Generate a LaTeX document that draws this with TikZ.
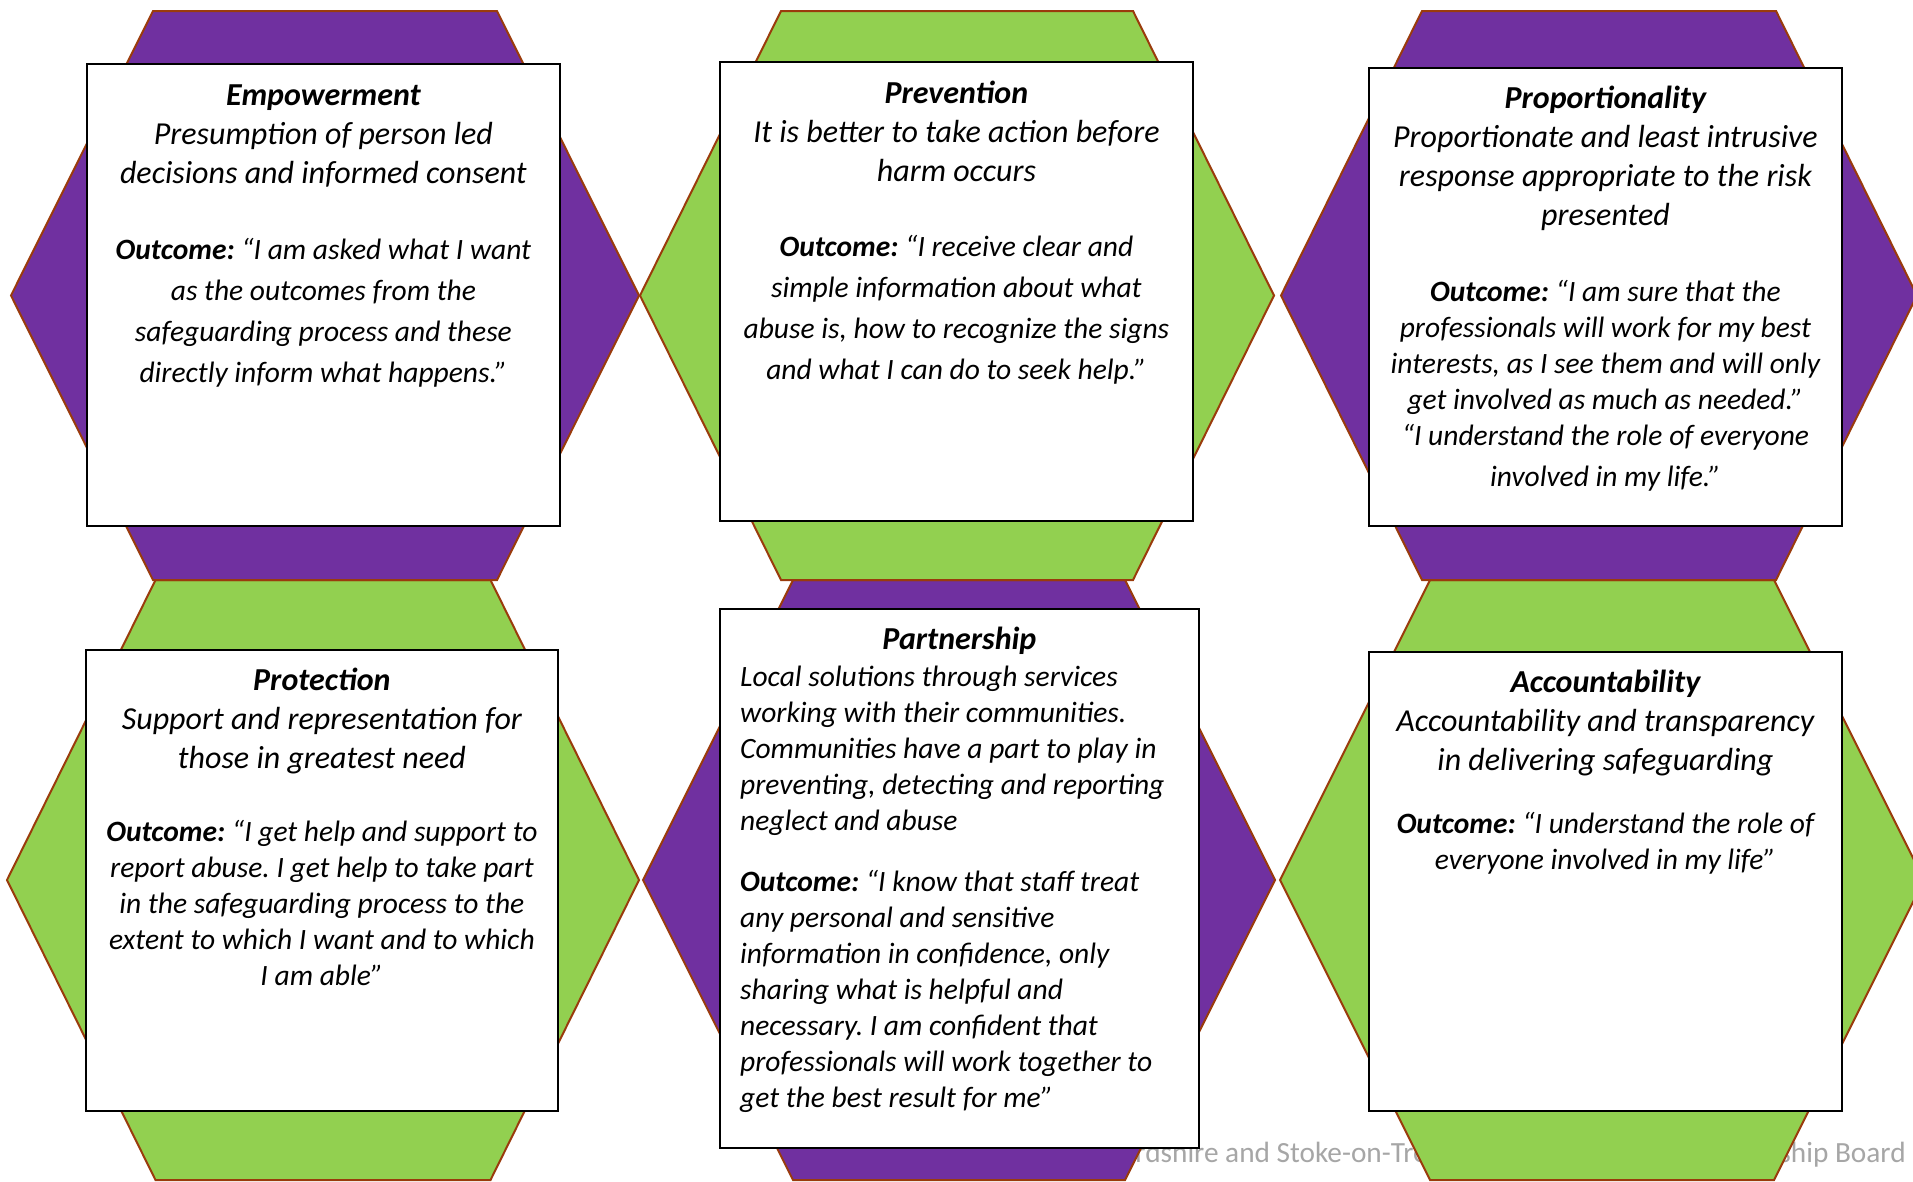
\documentclass[tikz,border=0pt]{standalone}
\usepackage{fontspec}
\setmainfont{Carlito}
\usetikzlibrary{positioning}

\definecolor{hexpurple}{HTML}{7030A0}
\definecolor{hexgreen}{HTML}{92D050}
\definecolor{hexedge}{HTML}{9A3B0C}
\definecolor{footgray}{HTML}{A6A6A6}

\tikzset{
	hexa/.style={draw=hexedge, line width=2pt, line join=miter},
	card/.style={draw=black, fill=white, line width=1.8pt, anchor=north west, inner sep=0pt},
	head/.style={align=center, inner sep=0pt, font=\fontsize{32}{39}\selectfont\itshape\frenchspacing},
	outc/.style={align=center, inner sep=0pt, font=\fontsize{29.5}{#1}\selectfont\itshape\frenchspacing},
	outc/.default=36,
}

\begin{document}
\begin{tikzpicture}[x=1pt, y=-1pt]
	
	\useasboundingbox (0,0) rectangle (1913,1181);
	\fill[white] (0,0) rectangle (1913,1181);
	
	% Fusszeile (liegt hinter den Waben)
	\node[font=\fontsize{29.3}{35}\selectfont, text=footgray, anchor=base east, inner sep=0pt] (board) at (1906,1162) {Staffordshire and Stoke-on-Trent Adult Safeguarding Partnership Board};
	
	% Waben untere Reihe
	\draw[hexa, fill=hexgreen] (7,880) -- (155.5,580) -- (490.5,580) -- (639,880) -- (490.5,1180) -- (155.5,1180) -- cycle;
	\draw[hexa, fill=hexpurple] (643,880) -- (793,580) -- (1125,580) -- (1275,880) -- (1125,1180) -- (793,1180) -- cycle;
	\draw[hexa, fill=hexgreen] (1280,880) -- (1430,580) -- (1774,580) -- (1924,880) -- (1774,1180) -- (1430,1180) -- cycle;
	
	% Waben obere Reihe
	\draw[hexa, fill=hexpurple] (11,295.5) -- (153,11) -- (497,11) -- (639,295.5) -- (497,580) -- (153,580) -- cycle;
	\draw[hexa, fill=hexgreen] (640,295.5) -- (781,11) -- (1133,11) -- (1274,295.5) -- (1133,580) -- (781,580) -- cycle;
	\draw[hexa, fill=hexpurple] (1281,295.5) -- (1422,11) -- (1776,11) -- (1917,295.5) -- (1776,580) -- (1422,580) -- cycle;
	
	% Empowerment
	\node[card, minimum width=473pt, minimum height=462pt] (emp) at (86,63) {};
	\node[head, below=15pt of emp.north] (empT) {\strut\textbf{Empowerment}\\Presumption of person led\\decisions and informed consent\strut};
	\node[outc=41, below=35.6pt of empT] (empO) {\strut\textbf{Outcome:} “I am asked what I want\\as the outcomes from the\\safeguarding process and these\\directly inform what happens.”\strut};
	
	% Prevention
	\node[card, minimum width=473pt, minimum height=459pt] (prev) at (719,61) {};
	\node[head, below=15pt of prev.north] (prevT) {\strut\textbf{Prevention}\\It is better to take action before\\harm occurs\strut};
	\node[outc=41, below=34.6pt of prevT] (prevO) {\strut\textbf{Outcome:} “I receive clear and\\simple information about what\\abuse is, how to recognize the signs\\and what I can do to seek help.”\strut};
	
	% Proportionality
	\node[card, minimum width=473pt, minimum height=458pt] (prop) at (1368,67) {};
	\node[head, below=14pt of prop.north] (propT) {\strut\textbf{Proportionality}\\Proportionate and least intrusive\\response appropriate to the risk\\presented\strut};
	\node[outc, below=38.5pt of propT] (propO) {\strut\textbf{Outcome:} “I am sure that the\\professionals will work for my best\\interests, as I see them and will only\\get involved as much as needed.”\\“I understand the role of everyone\\[5pt]involved in my life.”\strut};
	
	% Protection
	\node[card, minimum width=472pt, minimum height=461pt] (prot) at (85,649) {};
	\node[head, below=13.5pt of prot.north] (protT) {\strut\textbf{Protection}\\Support and representation for\\those in greatest need\strut};
	\node[outc, below=36pt of protT] (protO) {\strut\textbf{Outcome:} “I get help and support to\\report abuse. I get help to take part\\in the safeguarding process to the\\extent to which I want and to which\\I am able”\strut};
	
	% Partnership
	\node[card, minimum width=479pt, minimum height=539pt] (part) at (719,608) {};
	\node[head, below=13.7pt of part.north] (partT) {\strut\textbf{Partnership}\strut};
	\node[outc, align=left, anchor=north west] (partD) at (740,661.4) {\strut Local solutions through services\\working with their communities.\\Communities have a part to play in\\preventing, detecting and reporting\\neglect and abuse\strut};
	\node[outc, align=left, anchor=north west] (partO) at ([yshift=-24.7pt]partD.south west) {\strut\textbf{Outcome:} “I know that staff treat\\any personal and sensitive\\information in confidence, only\\sharing what is helpful and\\necessary. I am confident that\\professionals will work together to\\get the best result for me”\strut};
	
	% Accountability
	\node[card, minimum width=473pt, minimum height=459pt] (acc) at (1368,651) {};
	\node[head, below=13.5pt of acc.north] (accT) {\strut\textbf{Accountability}\\Accountability and transparency\\in delivering safeguarding\strut};
	\node[outc, below=26.5pt of accT] (accO) {\strut\textbf{Outcome:} “I understand the role of\\everyone involved in my life”\strut};
	
\end{tikzpicture}
\end{document}
